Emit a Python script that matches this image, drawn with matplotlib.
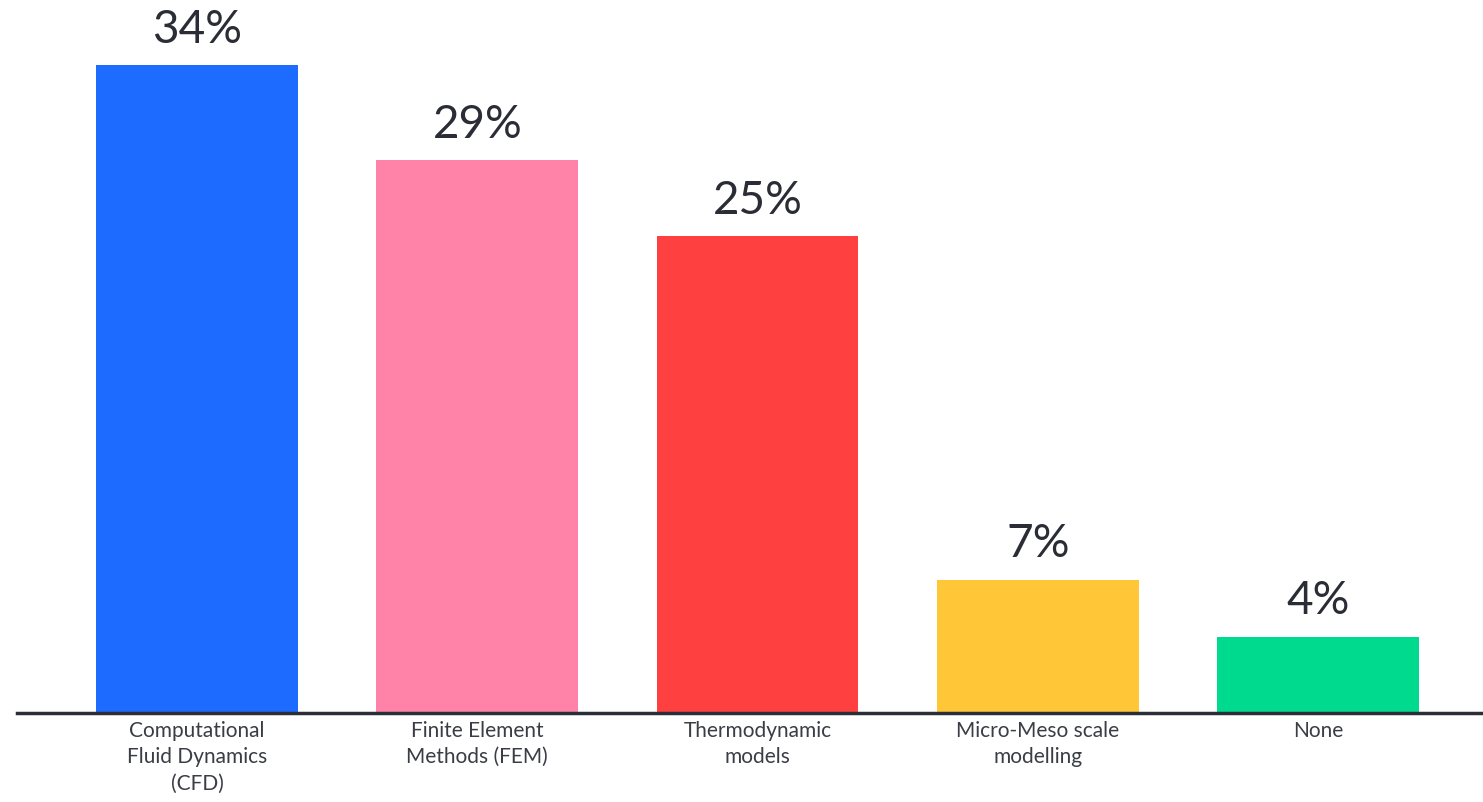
import matplotlib
matplotlib.use("Agg")
import matplotlib.pyplot as plt

# data
categories = ["Computational\nFluid Dynamics\n(CFD)", "Finite Element\nMethods (FEM)",
              "Thermodynamic\nmodels", "Micro-Meso scale\nmodelling", "None"]
values = [34, 29, 25, 7, 4]
bar_colors = ["#1e6bff", "#ff82a9", "#ff4040", "#ffc638", "#00da8f"]

W, H = 1483, 803
fig = plt.figure(figsize=(W / 100, H / 100), dpi=100)
ax = fig.add_axes([17 / W, 89 / H, 1466 / W, 714 / H])

x = range(len(values))
ax.bar(x, values, width=0.72, color=bar_colors, zorder=2)
ax.set_xlim(-0.643, 4.589)
ax.set_ylim(0, 37.46)

for i, v in enumerate(values):
    ax.annotate(f"{v}%", (i, v), xytext=(0, 11), textcoords="offset points",
                ha="center", va="bottom", fontsize=33, color="#2a2d35", family="Lato")

ax.set_xticks(list(x))
ax.set_xticklabels(categories, fontsize=15, color="#3a3d45", family="Lato", linespacing=1.4)
ax.tick_params(axis="x", length=0, pad=5)
ax.set_yticks([])
for s in ["top", "right", "left"]:
    ax.spines[s].set_visible(False)
ax.spines["bottom"].set_color("#2b2e36")
ax.spines["bottom"].set_linewidth(2.5)

fig.savefig("out.png", dpi=100)
